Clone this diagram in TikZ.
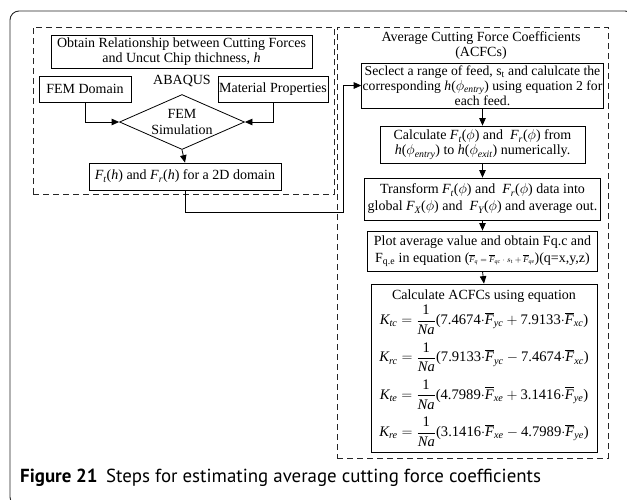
\documentclass[tikz,border=0pt]{standalone}
\usepackage{amsmath}
\usepackage{fontspec}
\setmainfont{Liberation Serif}
\newfontfamily\capfont{PT Sans}
\usetikzlibrary{shapes.geometric,arrows.meta}

% italic text-font letters inside math, scaling with sub/superscripts
\newcommand\mi[1]{\text{\itshape #1}}
\newcommand\fs{\fontsize{14}{15}\selectfont}
\newcommand\Fb[1]{\overline{\mi{F}}_{\mi{#1}}}
\newcommand\tdot{{\cdot}}

\tikzset{
  proc/.style={draw=black, line width=0.8pt, fill=white, align=center,
               inner sep=1pt, font=\fs},
  grp/.style={draw=black!85, dash pattern=on 6pt off 4pt, line width=0.8pt,
              inner sep=0pt},
  arr/.style={-{Triangle[length=7.5pt,width=6.5pt]}, line width=0.8pt},
}

\begin{document}
\begin{tikzpicture}[x=1pt,y=-1pt]
\useasboundingbox (0,0) rectangle (627,499);

% outer frame of the figure
\node[draw=black!85, line width=0.9pt, rounded corners=9pt,
      minimum width=624pt, minimum height=495pt, inner sep=0pt]
      (frame) at (322,258.5) {};

% ---- left group: FEM stage ----
\node[grp, minimum width=301pt, minimum height=167pt] (leftgrp) at (183.5,110.5) {};

\node[proc, minimum width=261pt, minimum height=33pt] (obtain) at (181.5,51.5)
  {Obtain Relationship between Cutting Forces\\and Uncut Chip thichness, \textit{h}};
\node[proc, minimum width=92pt, minimum height=26pt] (femdom) at (85,89) {FEM Domain};
\node[proc, minimum width=110pt, minimum height=26pt] (matprop) at (273,89) {Material Properties};
\node[font=\fs, inner sep=0pt] (abaqus) at (182,81) {ABAQUS};
\node[draw=black, line width=0.8pt, diamond, aspect=2.27, inner sep=0pt,
      minimum width=125pt, minimum height=55pt, align=center,
      font=\fontsize{14}{16}\selectfont] (sim) at (182,122) {FEM\\Simulation};
\node[proc, minimum width=192pt, minimum height=27pt] (fbox) at (185,176.5)
  {$\mi{F}_{\mi{t}}$(\textit{h}) and $\mi{F}_{\mi{r}}$(\textit{h}) for a 2D domain};

\draw[arr] (femdom.south) |- (sim.west);
\draw[arr] (matprop.south) |- (sim.east);
\draw[arr] (sim.south) -- (fbox.north);

% ---- right group: ACFC stage ----
\node[grp, minimum width=271pt, minimum height=431pt] (rightgrp) at (472.5,242.5) {};

\node[font=\fs, align=center, inner sep=0pt] (acfc) at (481,46)
  {Average Cutting Force Coefficients\\(ACFCs)};

\node[proc, minimum width=241pt, minimum height=45pt,
      font=\fontsize{13.7}{15}\selectfont] (b1) at (482.5,85.5)
  {Seclect a range of feed, s\textsubscript{t} and calulcate the\\
   corresponding \textit{h}($\phi_{\mi{entry}}$) using equation 2 for\\
   each feed.};
\node[proc, minimum width=205pt, minimum height=37pt] (b2) at (482.5,144.5)
  {Calculate $\mi{F}_{\mi{t}}$($\phi$) and \ $\mi{F}_{\mi{r}}$($\phi$) from\\
   \textit{h}($\phi_{\mi{entry}}$) to \textit{h}($\phi_{\mi{exit}}$) numerically.};
\node[proc, minimum width=236pt, minimum height=42pt] (b3) at (482.5,199)
  {Transform $\mi{F}_{\mi{t}}$($\phi$) and \ $\mi{F}_{\mi{r}}$($\phi$) data into\\[2pt]
   global $\mi{F}_{\mi{X}}$($\phi$) and \ $\mi{F}_{\mi{Y}}$($\phi$) and average out.};
\node[proc, minimum width=230pt, minimum height=40pt] (b4) at (482.5,251)
  {Plot average value and obtain Fq.c and\\[2pt]
   F\textsubscript{q.e} in equation
   ({\fontsize{8.5}{9}\selectfont$\Fb{q}=\Fb{qc}\cdot s_{\text{t}}+\Fb{qe}$})(q=x,y,z)};
\node[proc, minimum width=226pt, minimum height=168pt] (b5) at (484,368)
  {Calculate ACFCs using equation\\[2pt]
   {\fontsize{14.6}{15}\selectfont
   $\mi{K}_{\mi{tc}}=\dfrac{\text{1}}{\mi{Na}}\text{(7.4674}\tdot\Fb{yc}+\text{7.9133}\tdot\Fb{xc}\text{)}$}\\[7pt]
   {\fontsize{14.6}{15}\selectfont
   $\mi{K}_{\mi{rc}}=\dfrac{\text{1}}{\mi{Na}}\text{(7.9133}\tdot\Fb{yc}-\text{7.4674}\tdot\Fb{xc}\text{)}$}\\[7pt]
   {\fontsize{14.6}{15}\selectfont
   $\mi{K}_{\mi{te}}=\dfrac{\text{1}}{\mi{Na}}\text{(4.7989}\tdot\Fb{xe}+\text{3.1416}\tdot\Fb{ye}\text{)}$}\\[7pt]
   {\fontsize{14.6}{15}\selectfont
   $\mi{K}_{\mi{re}}=\dfrac{\text{1}}{\mi{Na}}\text{(3.1416}\tdot\Fb{xe}-\text{4.7989}\tdot\Fb{ye}\text{)}$}};

\draw[arr] (b1.south) -- (b2.north);
\draw[arr] (b2.south) -- (b3.north);
\draw[arr] (b3.south) -- (b4.north);
\draw[arr] (b4.south) -- (b5.north);

% link from the FEM result into the ACFC stage
\coordinate (turn) at (343,212);
\draw[arr] (fbox.south) |- (turn) |- (b1.west);

% ---- caption ----
\node[anchor=base west, inner sep=0pt, font=\capfont\fontsize{18.9}{22}\selectfont]
  (cap) at (20,482)
  {\textbf{Figure 21}\hspace{0.45em}Steps for estimating average cutting force coefficients};
\end{tikzpicture}
\end{document}
